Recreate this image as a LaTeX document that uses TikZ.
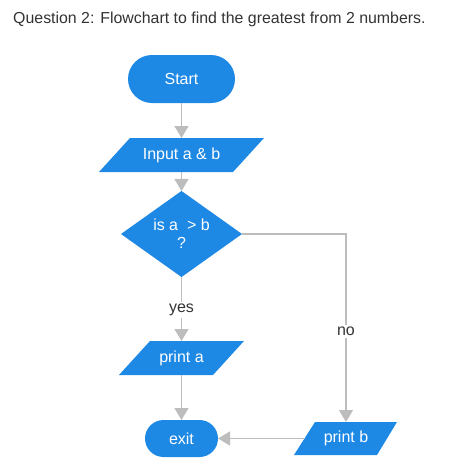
\documentclass[tikz,border=0pt]{standalone}
\usepackage{fontspec}
\setmainfont{Liberation Sans}
\usetikzlibrary{arrows.meta,shapes.geometric}
\definecolor{fcblue}{RGB}{30,136,229}
\definecolor{fcgray}{RGB}{189,189,189}
\definecolor{fctext}{RGB}{51,51,51}
\tikzset{
  base/.style={inner sep=0pt, outer sep=0pt, text=white, font=\fontsize{16}{18}\selectfont},
  term/.style={base, fill=fcblue, rounded corners=#1},
  conn/.style={draw=fcgray, line width=1.5pt},
  arr/.style={conn, -{Triangle[width=14pt,length=12pt]}},
  lbl/.style={fill=white, text=fctext, inner sep=2pt, font=\fontsize{16}{18}\selectfont},
}
\begin{document}
\begin{tikzpicture}[x={(1pt,0)}, y={(0,-1pt)}]
\useasboundingbox (0,0) rectangle (457,475);
% title
\node[anchor=base west, inner sep=0pt, text=fctext, font=\fontsize{15.9}{18}\selectfont] (title) at (13,23) {Question 2: Flowchart to find the greatest from 2 numbers.};
% start
\node[term=24pt, minimum width=107pt, minimum height=48pt] (start) at (181.5,79) {Start};
% input
\fill[fcblue] (130,138) -- (264,138) -- (233,172) -- (99,172) -- cycle;
\node[base, minimum width=134pt, minimum height=34pt] (input) at (181.5,155) {Input a \& b};
% decision
\node[base, diamond, fill=fcblue, minimum width=121pt, minimum height=84pt, align=center] (dec) at (181.5,234) {is a \ > b\\?};
% print a
\fill[fcblue] (150,341) -- (244,341) -- (213,375) -- (119,375) -- cycle;
\node[base, minimum width=94pt, minimum height=34pt] (printa) at (181.5,358) {print a};
% print b
\fill[fcblue] (315,422) -- (397,422) -- (377,455) -- (294,455) -- cycle;
\node[base, minimum width=82pt, minimum height=33pt] (printb) at (346,438.5) {print b};
\coordinate (pbleft) at (304.5,438.5);
% exit
\node[term=18.5pt, minimum width=73pt, minimum height=37pt] (exit) at (181.5,438.5) {exit};
% connectors
\draw[arr] (start) -- (input);
\draw[arr] (input) -- (dec);
\draw[arr] (dec.south) -- node[lbl, pos=0.52] {yes} (printa);
\draw[arr] (dec.east) -| node[lbl, pos=0.76] {no} (printb);
\draw[arr] (printa) -- (exit);
\draw[arr] (pbleft) -- (exit);
\end{tikzpicture}
\end{document}
